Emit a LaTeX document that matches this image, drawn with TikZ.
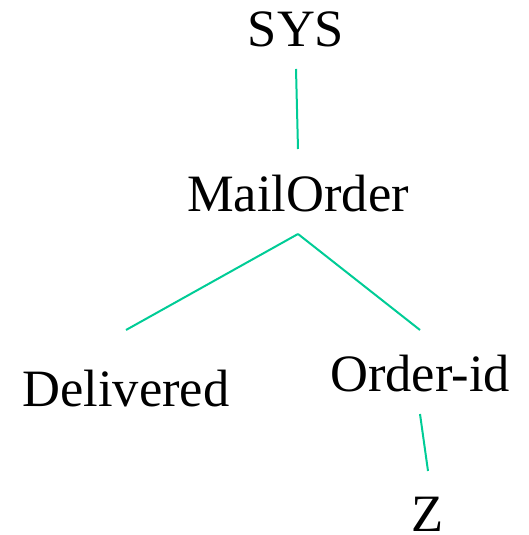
\documentclass[tikz,border=0pt]{standalone}
\usepackage{fontspec}
\setmainfont{Liberation Serif}
\definecolor{edgegreen}{RGB}{0,204,150}
\tikzset{
  lbl/.style={anchor=base, inner sep=0pt, font=\fontsize{52.5}{60}\selectfont},
  link/.style={draw=edgegreen, line width=2pt}
}
\begin{document}
\begin{tikzpicture}[x=1pt,y=1pt]
  \useasboundingbox (0,0) rectangle (529,535);
  % labels placed on their baselines
  \node[lbl] (sys)   at (296,488) {SYS};
  \node[lbl] (mail)  at (298,323) {MailOrder};
  \node[lbl] (deliv) at (126,128) {Delivered};
  \node[lbl] (oid)   at (420,143) {Order-id};
  \node[lbl] (z)     at (428,3)   {Z};
  % tree edges
  \draw[link] ([yshift=-22pt]sys.base) -- ([yshift=63pt]mail.base);
  \draw[link] ([yshift=-22pt]mail.base) -- ([yshift=77pt]deliv.base);
  \draw[link] ([yshift=-22pt]mail.base) -- ([yshift=62pt]oid.base);
  \draw[link] ([yshift=-22pt]oid.base) -- ([yshift=61pt]z.base);
\end{tikzpicture}
\end{document}
